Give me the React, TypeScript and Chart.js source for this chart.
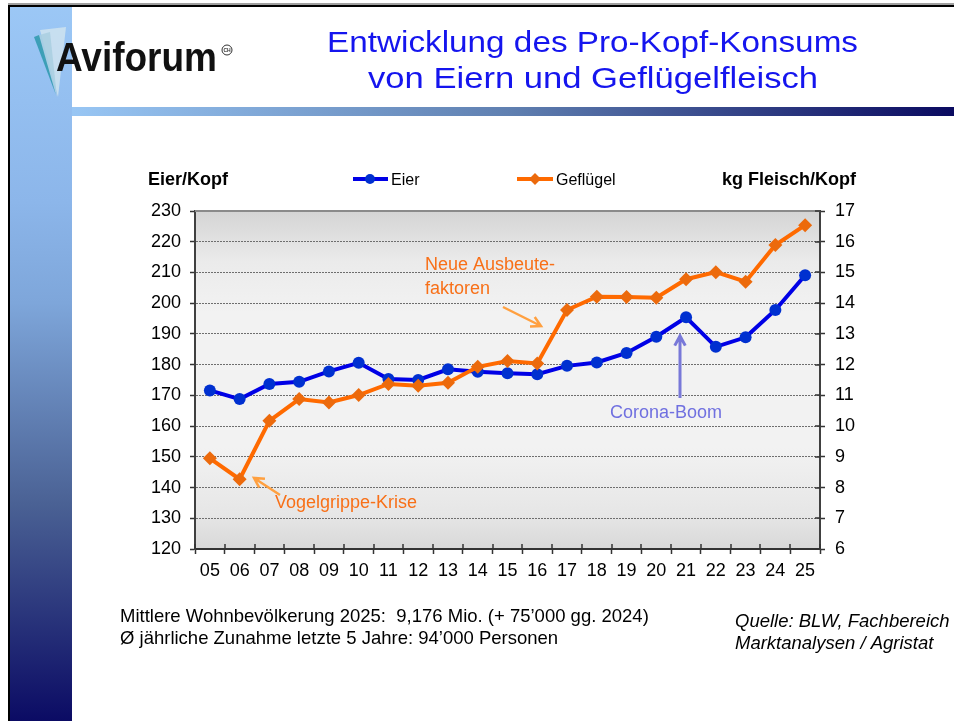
import { useEffect, useRef } from "react";
import { Chart, registerables } from "chart.js";

Chart.register(...registerables);

const years = ["05","06","07","08","09","10","11","12","13","14","15","16","17","18","19","20","21","22","23","24","25"];
const eierValues = [171.6,168.8,173.7,174.4,177.8,180.6,175.3,175.0,178.5,177.7,177.2,176.9,179.6,180.7,183.8,189.1,195.4,185.8,188.9,197.8,209.1];
const gefluegelValues = [8.95,8.27,10.17,10.88,10.77,11.01,11.37,11.31,11.41,11.93,12.12,12.04,13.78,14.21,14.20,14.18,14.78,15.01,14.70,15.89,16.54];
const leftAxis = { min: 120, max: 230, step: 10 };
const rightAxis = { min: 6, max: 17, step: 1 };

const titleLines = ["Entwicklung des Pro-Kopf-Konsums", "von Eiern und Geflügelfleisch"];
const seriesNames = ["Eier", "Geflügel"];
const axisTitles = ["Eier/Kopf", "kg Fleisch/Kopf"];
const noteLines = ["Mittlere Wohnbevölkerung 2025:  9,176 Mio. (+ 75’000 gg. 2024)", "Ø jährliche Zunahme letzte 5 Jahre: 94’000 Personen"];
const sourceLines = ["Quelle: BLW, Fachbereich", "Marktanalysen / Agristat"];
const annotations = { ausbeute: ["Neue Ausbeute-", "faktoren"], vogel: "Vogelgrippe-Krise", corona: "Corona-Boom" };

const FONT = "'Liberation Sans', Arial, sans-serif";
const BLUE = "#0000e6";
const BLUE_PT = "#0030d0";
const ORANGE = "#ff6a00";
const ORANGE_PT = "#ec6a0c";

function arrow(ctx: CanvasRenderingContext2D, x1: number, y1: number, x2: number, y2: number, color: string, w: number, head: number) {
  ctx.save();
  ctx.strokeStyle = color;
  ctx.lineWidth = w;
  ctx.lineCap = "butt";
  ctx.beginPath();
  ctx.moveTo(x1, y1);
  ctx.lineTo(x2, y2);
  const a = Math.atan2(y2 - y1, x2 - x1);
  ctx.moveTo(x2 - head * Math.cos(a - 0.5), y2 - head * Math.sin(a - 0.5));
  ctx.lineTo(x2, y2);
  ctx.lineTo(x2 - head * Math.cos(a + 0.5), y2 - head * Math.sin(a + 0.5));
  ctx.stroke();
  ctx.restore();
}

function fitText(ctx: CanvasRenderingContext2D, text: string, x: number, y: number, width: number) {
  const m = ctx.measureText(text).width;
  ctx.save();
  ctx.translate(x, y);
  ctx.scale(width / m, 1);
  ctx.textAlign = "left";
  ctx.fillText(text, 0, 0);
  ctx.restore();
}

const slidePlugin = {
  id: "slide",
  beforeDraw(chart: any) {
    const ctx: CanvasRenderingContext2D = chart.ctx;
    const W = chart.width, H = chart.height;
    ctx.save();
    ctx.fillStyle = "#ffffff";
    ctx.fillRect(0, 0, W, H);
    // left gradient bar
    const g = ctx.createLinearGradient(0, 0, 0, H);
    g.addColorStop(0, "#9cc8f6");
    g.addColorStop(0.28, "#8cb6ea");
    g.addColorStop(0.42, "#7ea6da");
    g.addColorStop(0.7, "#4a6194");
    g.addColorStop(1, "#0b0b64");
    ctx.fillStyle = g;
    ctx.fillRect(10, 6, 62, H - 6);
    // title bar
    const gh = ctx.createLinearGradient(72, 0, W, 0);
    gh.addColorStop(0, "#98c6f4");
    gh.addColorStop(0.5, "#5f7fb0");
    gh.addColorStop(1, "#0a0a60");
    ctx.fillStyle = gh;
    ctx.fillRect(72, 107, W - 72, 9);
    // frame
    ctx.fillStyle = "#a0a0a0";
    ctx.fillRect(8, 3, W - 8, 2);
    ctx.fillStyle = "#000";
    ctx.fillRect(8, 5, W - 8, 2);
    ctx.fillRect(8, 5, 2, H - 5);
    // logo feather
    ctx.globalAlpha = 0.85;
    ctx.fillStyle = "#cfe3ef";
    ctx.beginPath(); ctx.moveTo(40, 30); ctx.lineTo(66, 27); ctx.lineTo(58, 97); ctx.closePath(); ctx.fill();
    ctx.fillStyle = "#a9cfe0";
    ctx.beginPath(); ctx.moveTo(36, 36); ctx.lineTo(50, 32); ctx.lineTo(57, 97); ctx.closePath(); ctx.fill();
    ctx.fillStyle = "#2b98ae";
    ctx.beginPath(); ctx.moveTo(34, 37); ctx.lineTo(39, 35); ctx.lineTo(56, 95); ctx.closePath(); ctx.fill();
    ctx.globalAlpha = 1;
    ctx.fillStyle = "#111";
    ctx.font = `bold 41px ${FONT}`;
    ctx.textBaseline = "alphabetic";
    fitText(ctx, "Aviforum", 56, 71, 161);
    ctx.strokeStyle = "#333"; ctx.lineWidth = 1;
    ctx.beginPath(); ctx.arc(227, 50, 5, 0, Math.PI * 2); ctx.stroke();
    ctx.font = `bold 5px ${FONT}`; ctx.textAlign = "center"; ctx.fillStyle = "#333";
    ctx.fillText("CH", 227, 52);
    // title
    ctx.fillStyle = "#1515ee";
    ctx.font = `29px ${FONT}`;
    fitText(ctx, titleLines[0], 327, 52, 531);
    fitText(ctx, titleLines[1], 368, 88, 450);
    // plot background
    const ca = chart.chartArea;
    const pg = ctx.createLinearGradient(0, ca.top, 0, ca.bottom);
    pg.addColorStop(0, "#d4d4d4");
    pg.addColorStop(0.15, "#ebebeb");
    pg.addColorStop(0.3, "#f2f2f2");
    pg.addColorStop(0.7, "#f2f2f2");
    pg.addColorStop(0.9, "#e6e6e6");
    pg.addColorStop(1, "#d8d8d8");
    ctx.fillStyle = pg;
    ctx.fillRect(ca.left, ca.top, ca.right - ca.left, ca.bottom - ca.top);
    ctx.restore();
  },
  beforeDatasetsDraw(chart: any) {
    const ctx: CanvasRenderingContext2D = chart.ctx;
    const ca = chart.chartArea;
    const x = chart.scales.x;
    const y1 = chart.scales.y1;
    ctx.save();
    ctx.strokeStyle = "#8a8a8a";
    ctx.lineWidth = 2;
    ctx.beginPath(); ctx.moveTo(ca.left, ca.top); ctx.lineTo(ca.right, ca.top); ctx.stroke();
    ctx.strokeStyle = "#333";
    ctx.lineWidth = 1.5;
    ctx.beginPath();
    const half = (x.getPixelForValue(1) - x.getPixelForValue(0)) / 2;
    for (let i = 0; i <= years.length; i++) {
      const px = Math.round(x.getPixelForValue(0) - half + i * half * 2);
      ctx.moveTo(px, ca.bottom - 5); ctx.lineTo(px, ca.bottom);
    }
    y1.ticks.forEach((t: any) => {
      const py = Math.round(y1.getPixelForValue(t.value));
      ctx.moveTo(ca.right - 5, py); ctx.lineTo(ca.right, py);
    });
    ctx.stroke();
    ctx.restore();
  },
  afterDraw(chart: any) {
    const ctx: CanvasRenderingContext2D = chart.ctx;
    ctx.save();
    ctx.textBaseline = "alphabetic";
    // axis titles
    ctx.fillStyle = "#000";
    ctx.font = `bold 18px ${FONT}`;
    ctx.textAlign = "left";
    ctx.fillText(axisTitles[0], 148, 185);
    ctx.textAlign = "right";
    ctx.fillText(axisTitles[1], 856, 185);
    // legend
    ctx.lineWidth = 4;
    ctx.strokeStyle = BLUE;
    ctx.beginPath(); ctx.moveTo(353, 179); ctx.lineTo(388, 179); ctx.stroke();
    ctx.fillStyle = BLUE_PT;
    ctx.beginPath(); ctx.arc(370, 179, 5, 0, Math.PI * 2); ctx.fill();
    ctx.strokeStyle = ORANGE;
    ctx.beginPath(); ctx.moveTo(517, 179); ctx.lineTo(553, 179); ctx.stroke();
    ctx.fillStyle = ORANGE_PT;
    ctx.beginPath(); ctx.moveTo(535, 173); ctx.lineTo(541, 179); ctx.lineTo(535, 185); ctx.lineTo(529, 179); ctx.closePath(); ctx.fill();
    ctx.fillStyle = "#000";
    ctx.font = `16px ${FONT}`;
    ctx.textAlign = "left";
    ctx.fillText(seriesNames[0], 391, 185);
    ctx.fillText(seriesNames[1], 556, 185);
    // annotations
    ctx.font = `18px ${FONT}`;
    ctx.fillStyle = "#f87018";
    ctx.fillText(annotations.ausbeute[0], 425, 270);
    ctx.fillText(annotations.ausbeute[1], 425, 294);
    ctx.fillText(annotations.vogel, 275, 508);
    ctx.fillStyle = "#7070e0";
    ctx.fillText(annotations.corona, 610, 418);
    arrow(ctx, 503, 307, 541, 326, "#ffa040", 2.5, 11);
    arrow(ctx, 280, 495, 254, 478, "#ffa040", 2.5, 11);
    arrow(ctx, 680, 398, 680, 336, "#7878d8", 3, 11);
    // bottom notes
    ctx.fillStyle = "#000";
    ctx.font = `18.5px ${FONT}`;
    ctx.fillText(noteLines[0], 120, 622);
    ctx.fillText(noteLines[1], 120, 644);
    ctx.font = `italic 18.5px ${FONT}`;
    ctx.fillText(sourceLines[0], 735, 627);
    ctx.fillText(sourceLines[1], 735, 649);
    ctx.restore();
  },
};

export default function App() {
  const ref = useRef<HTMLCanvasElement>(null);
  useEffect(() => {
    document.body.style.margin = "0";
    const canvas = ref.current!;
    const tickFont = { family: FONT, size: 18 };
    const chart = new Chart(canvas, {
      type: "line",
      data: {
        labels: years,
        datasets: [
          {
            label: seriesNames[0],
            data: eierValues,
            yAxisID: "y",
            borderColor: BLUE,
            borderWidth: 4,
            pointStyle: "circle",
            pointRadius: 6,
            pointBackgroundColor: BLUE_PT,
            pointBorderColor: BLUE_PT,
            pointBorderWidth: 0,
            tension: 0,
            order: 1,
          },
          {
            label: seriesNames[1],
            data: gefluegelValues,
            yAxisID: "y1",
            borderColor: ORANGE,
            borderWidth: 4,
            pointStyle: "rectRot",
            pointRadius: 7,
            pointBackgroundColor: ORANGE_PT,
            pointBorderColor: ORANGE_PT,
            pointBorderWidth: 0,
            tension: 0,
            order: 0,
          },
        ],
      },
      options: {
        responsive: false,
        animation: false,
        devicePixelRatio: 1,
        events: [],
        layout: { padding: { left: 135, right: 74, top: 211, bottom: 132 } },
        plugins: { legend: { display: false }, tooltip: { enabled: false } },
        scales: {
          x: {
            type: "category",
            offset: true,
            grid: { offset: true, drawOnChartArea: false, drawTicks: true, tickLength: 5, tickColor: "#333", tickWidth: 1.5 },
            border: { display: true, color: "#333", width: 2 },
            ticks: { font: tickFont, color: "#000", padding: 6, maxRotation: 0, autoSkip: false },
            afterFit: (s: any) => { s.height = 40; },
          },
          y: {
            position: "left",
            min: leftAxis.min,
            max: leftAxis.max,
            ticks: { stepSize: leftAxis.step, font: tickFont, color: "#000", padding: 9 },
            grid: { color: "#6e6e6e", lineWidth: 1, drawTicks: true, tickLength: 5, tickColor: "#333", tickWidth: 1.5 },
            border: { color: "#404040", width: 2, dash: [2, 1] },
            afterFit: (s: any) => { s.width = 60; },
          },
          y1: {
            position: "right",
            min: rightAxis.min,
            max: rightAxis.max,
            ticks: { stepSize: rightAxis.step, font: tickFont, color: "#000", padding: 10 },
            grid: { drawOnChartArea: false, drawTicks: true, tickLength: 5, tickColor: "#333", tickWidth: 1.5 },
            border: { color: "#404040", width: 2 },
            afterFit: (s: any) => { s.width = 60; },
          },
        },
      },
      plugins: [slidePlugin],
    } as any);
    return () => chart.destroy();
  }, []);
  return (
    <div style={{ position: "relative", width: 954, height: 721 }}>
      <canvas ref={ref} width={954} height={721} style={{ display: "block" }} />
    </div>
  );
}
